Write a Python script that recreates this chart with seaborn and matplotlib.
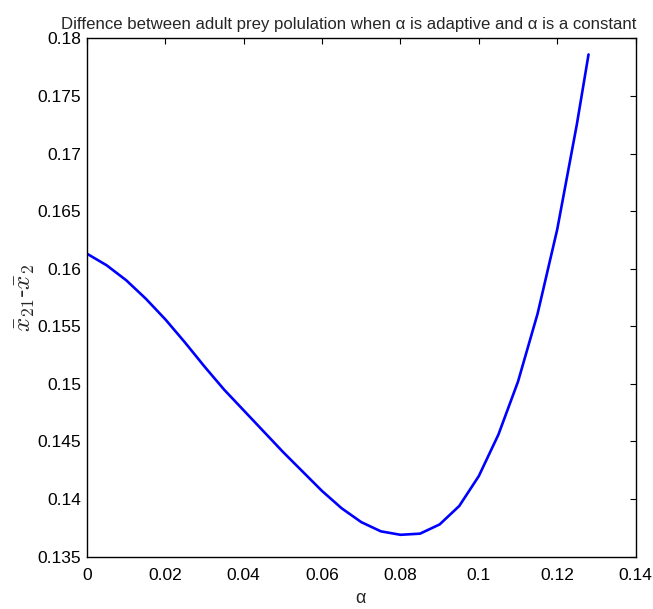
import matplotlib
matplotlib.use("Agg")
import matplotlib.pyplot as plt
import seaborn as sns
import pandas as pd

alpha = [0.0, 0.005, 0.01, 0.015, 0.02, 0.025, 0.03, 0.035, 0.04, 0.045,
         0.05, 0.055, 0.06, 0.065, 0.07, 0.075, 0.08, 0.085, 0.09, 0.095,
         0.10, 0.105, 0.11, 0.115, 0.12, 0.125, 0.128]
diff = [0.1613, 0.1603, 0.1590, 0.1574, 0.1556, 0.1536, 0.1515, 0.1495, 0.1477, 0.1459,
        0.1441, 0.1424, 0.1407, 0.1392, 0.1380, 0.1372, 0.1369, 0.1370, 0.1378, 0.1394,
        0.1420, 0.1456, 0.1502, 0.1561, 0.1634, 0.1725, 0.1786]
xticks = [0, 0.02, 0.04, 0.06, 0.08, 0.1, 0.12, 0.14]
xticklabels = ["0", "0.02", "0.04", "0.06", "0.08", "0.1", "0.12", "0.14"]
yticks = [0.135, 0.14, 0.145, 0.15, 0.155, 0.16, 0.165, 0.17, 0.175, 0.18]
yticklabels = ["0.135", "0.14", "0.145", "0.15", "0.155", "0.16", "0.165", "0.17", "0.175", "0.18"]

sns.set_style("white")
plt.rcParams['font.family'] = ['Liberation Sans', 'DejaVu Sans']
plt.rcParams['mathtext.fontset'] = 'cm'

df = pd.DataFrame({"alpha": alpha, "diff": diff})

fig = plt.figure(figsize=(6.53, 6.09), dpi=100)
ax = fig.add_axes([0.1332, 0.0859, 0.8401, 0.8512])
sns.lineplot(data=df, x="alpha", y="diff", ax=ax, color=(0, 0, 1), linewidth=1.9)

ax.set_xlim(0, 0.14)
ax.set_ylim(0.135, 0.18)
ax.set_xticks(xticks)
ax.set_xticklabels(xticklabels)
ax.set_yticks(yticks)
ax.set_yticklabels(yticklabels)
ax.tick_params(direction='in', length=4, width=0.8, top=True, right=True,
               labelsize=12.5, colors='black')
ax.tick_params(axis='x', pad=8)
ax.tick_params(axis='y', pad=4)
for s in ax.spines.values():
    s.set_visible(True)
    s.set_color('black')
    s.set_linewidth(1.0)

ax.set_xlabel("α", fontsize=13)
ax.xaxis.set_label_coords(0.499, -0.064)
ax.set_ylabel(r"$\bar{x}_{21}$-$\bar{x}_2$", fontsize=18)
ax.yaxis.set_label_coords(-0.091, 0.5)
ax.set_title("Diffence between adult prey polulation when α is adaptive and α is a constant",
             fontsize=12.1, pad=7, x=0.4776)

fig.savefig("out.png", dpi=100)
